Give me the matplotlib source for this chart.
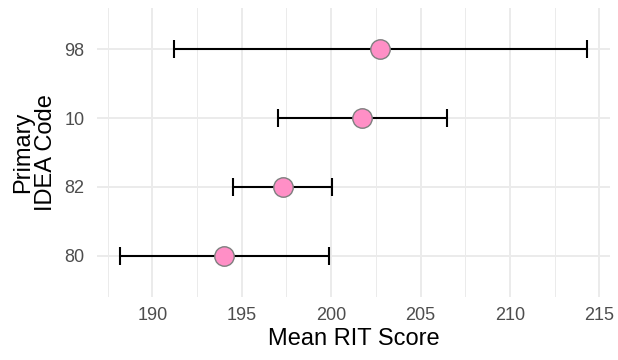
import matplotlib
matplotlib.use("Agg")
import matplotlib.pyplot as plt
from matplotlib.ticker import MultipleLocator

# data (bottom to top)
codes = ["80", "82", "10", "98"]
means = [194.0, 197.3, 201.75, 202.75]
lower = [188.2, 194.5, 197.0, 191.2]
upper = [199.9, 200.05, 206.5, 214.3]

plt.rcParams['font.family'] = ['Liberation Sans', 'DejaVu Sans']

fig = plt.figure(figsize=(6.18, 3.6), dpi=100)
ax = fig.add_axes([97 / 618, 63 / 360, 513 / 618, 289 / 360])

ypos = list(range(1, len(codes) + 1))
err_lo = [m - l for m, l in zip(means, lower)]
err_hi = [u - m for m, u in zip(means, upper)]

ax.errorbar(means, ypos, xerr=[err_lo, err_hi], fmt='none', ecolor='black',
            elinewidth=1.5, capsize=6.5, capthick=1.5, zorder=3)
ax.plot(means, ypos, 'o', markersize=14, markerfacecolor='#ff8fc6',
        markeredgecolor='#7f7f7f', markeredgewidth=1.0, zorder=4)

lo, hi = min(lower), max(upper)
pad = (hi - lo) * 0.05
ax.set_xlim(lo - pad, hi + pad)
ax.set_ylim(0.4, len(codes) + 0.6)

ax.set_yticks(ypos)
ax.set_yticklabels(codes)
ax.xaxis.set_major_locator(MultipleLocator(5))
ax.xaxis.set_minor_locator(MultipleLocator(2.5))

ax.grid(which='major', color='#ebebeb', linewidth=1.4, zorder=0)
ax.grid(which='minor', axis='x', color='#ebebeb', linewidth=0.7, zorder=0)
ax.set_axisbelow(True)
for s in ax.spines.values():
    s.set_visible(False)
ax.tick_params(which='both', length=0, labelsize=13, labelcolor='#4d4d4d')
ax.tick_params(axis='x', pad=7)
ax.tick_params(axis='y', pad=9)

ax.set_xlabel('Mean RIT Score', fontsize=17, labelpad=3)
ax.set_ylabel('Primary\nIDEA Code', fontsize=17, labelpad=5, linespacing=1.05)

fig.savefig('out.png', dpi=100)
